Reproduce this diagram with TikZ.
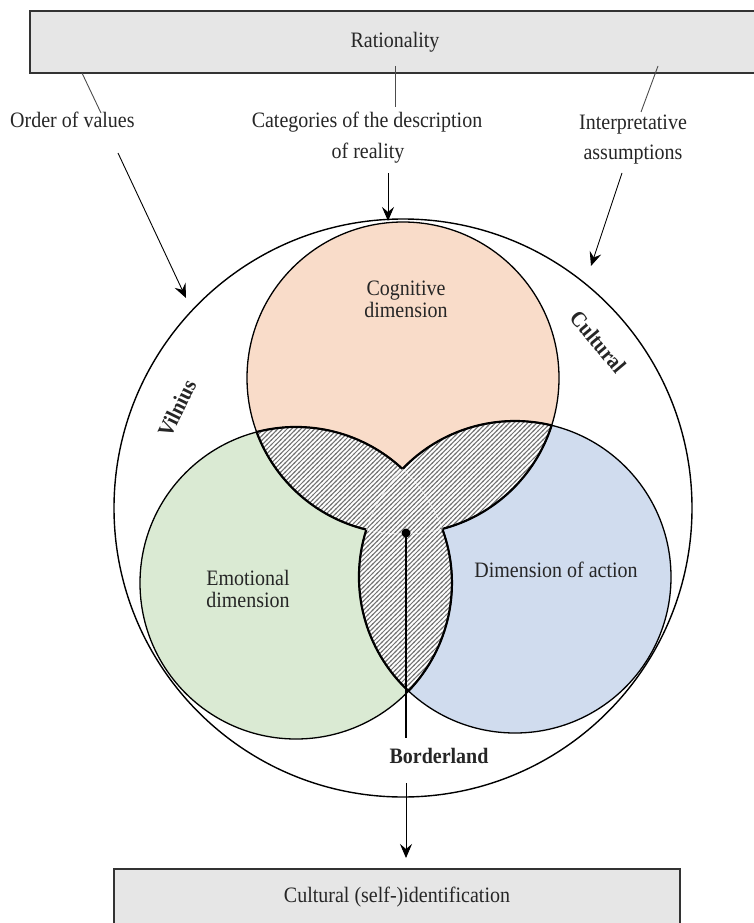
\documentclass[tikz,border=0pt]{standalone}
\usepackage{fontspec}
\setmainfont{Liberation Serif}
\usetikzlibrary{arrows.meta,patterns}
\definecolor{pinkc}{RGB}{249,220,201}
\definecolor{greenc}{RGB}{218,234,211}
\definecolor{bluec}{RGB}{208,220,238}
\definecolor{boxc}{RGB}{230,230,230}
\definecolor{txt}{RGB}{38,38,38}
\pgfdeclarepatternformonly{hatchlines}{\pgfqpoint{-1pt}{-1pt}}{\pgfqpoint{5.6pt}{5.6pt}}{\pgfqpoint{4.6pt}{4.6pt}}{%
  \pgfsetlinewidth{1pt}%
  \pgfpathmoveto{\pgfqpoint{-0.6pt}{-0.6pt}}%
  \pgfpathlineto{\pgfqpoint{5.2pt}{5.2pt}}%
  \pgfusepath{stroke}}
\begin{document}
\begin{tikzpicture}[x=1pt,y=-1pt,
  tall/.style={execute at begin node={\setbox0\hbox\bgroup},
               execute at end node={\egroup\scalebox{1}[1.1]{\box0}}},
  lbl/.style={font=\fontsize{20}{24}\selectfont, text=txt, inner sep=0pt, tall},
  boldlbl/.style={font=\fontsize{20}{24}\selectfont\bfseries, text=txt, inner sep=0pt, tall},
  boxnode/.style={draw=black!80, line width=1.3pt, fill=boxc, inner sep=0pt, font=\fontsize{20}{24}\selectfont, text=txt, tall},
  leader/.style={draw=black!70, line width=0.9pt},
  arr/.style={draw=black, line width=0.9pt, -{Stealth[length=14pt,width=12pt,inset=5pt]}},
  ring/.style={draw=black, line width=1.3pt},
  hatchpath/.style={insert path={(X1) arc[start angle=-104.59,end angle=-46.95,radius=156]
      arc[start angle=-136.17,end angle=-76.43,radius=156]
      arc[start angle=17.69,end angle=75.41,radius=156]
      arc[start angle=-20.26,end angle=43.83,radius=156]
      arc[start angle=133.05,end angle=197.69,radius=156]
      arc[start angle=103.57,end angle=159.74,radius=156] -- cycle}}
]
\useasboundingbox (0,0) rectangle (754,923);

% centres and intersection points
\coordinate (O) at (403,508);
\coordinate (P) at (403,378);
\coordinate (G) at (296,583);
\coordinate (B) at (515,577);
\coordinate (X1) at (256.7,432.0);
\coordinate (T) at (402.5,469.0);
\coordinate (X2) at (551.6,425.4);
\coordinate (Y1) at (442.3,529.0);
\coordinate (Z) at (408.5,691.0);
\coordinate (Y2) at (366.4,529.6);

% boxes
\node[boxnode, minimum width=730pt, minimum height=62pt] (rat) at (395,42) {Rationality};
\node[boxnode, minimum width=566pt, minimum height=56pt] (cid) at (397,897) {Cultural (self-)identification};

% outer circle
\draw[ring, line width=1.4pt, fill=white] (O) circle[radius=289];

% three dimensions
\fill[pinkc] (P) circle[radius=156];
\fill[greenc] (G) circle[radius=156];
\fill[bluec] (B) circle[radius=156];
\draw[ring] (P) circle[radius=156];
\draw[ring] (G) circle[radius=156];
\draw[ring] (B) circle[radius=156];

% hatched overlap region
\path[fill=white, postaction={pattern=hatchlines, pattern color=black!55},
      postaction={draw=black, line width=2.2pt, line join=round}, hatchpath];
% faint inner arcs
\draw[white, line width=0.7pt, opacity=0.7] (T) arc[start angle=-46.95,end angle=-20.26,radius=156]
   arc[start angle=75.41,end angle=103.57,radius=156]
   arc[start angle=-162.31,end angle=-136.17,radius=156];

% labels
\node[lbl, anchor=base west] (ov) at (10,128) {Order of values};
\node[lbl, anchor=base] (cat1) at (367,128) {Categories of the description};
\node[lbl, anchor=base] (cat2) at (368,158) {of reality};
\node[lbl, anchor=base] (int1) at (633,130) {Interpretative};
\node[lbl, anchor=base] (int2) at (633,159) {assumptions};
\node[lbl, anchor=base] (cog1) at (406,295) {Cognitive};
\node[lbl, anchor=base] (cog2) at (406,317) {dimension};
\node[lbl, anchor=base] (emo1) at (248,585) {Emotional};
\node[lbl, anchor=base] (emo2) at (248,607) {dimension};
\node[lbl, anchor=base] (act) at (556,577) {Dimension of action};
\node[boldlbl, anchor=base] (bord) at (439,763) {Borderland};
\node[boldlbl, rotate=64] (vil) at (177,408) {Vilnius};
\node[boldlbl, rotate=-50] (cult) at (598,342) {Cultural};

% leader lines from Rationality
\coordinate (l1a) at (82,73);   \coordinate (l1b) at (101,113);
\coordinate (l2a) at (395,66);  \coordinate (l2b) at (395,107);
\coordinate (l3a) at (658,66);  \coordinate (l3b) at (641,112);
\draw[leader] (l1a) -- (l1b);
\draw[leader] (l2a) -- (l2b);
\draw[leader] (l3a) -- (l3b);

% arrows into the outer circle
\coordinate (a1s) at (118,153); \coordinate (a1e) at (186,298);
\coordinate (a2s) at (388,173); \coordinate (a2e) at (388,221);
\coordinate (a3s) at (622,173); \coordinate (a3e) at (591,266);
\draw[arr] (a1s) -- (a1e);
\draw[arr] (a2s) -- (a2e);
\draw[arr] (a3s) -- (a3e);

% borderland pointer
\node[circle, fill=black, minimum size=9pt, inner sep=0pt] (dot) at (406,533) {};
\coordinate (bend) at (406,738);
\draw[black, line width=1.1pt] (dot.center) -- (bend);
\coordinate (a4s) at (406,783); \coordinate (a4e) at (406,858);
\draw[arr] (a4s) -- (a4e);
\end{tikzpicture}
\end{document}
